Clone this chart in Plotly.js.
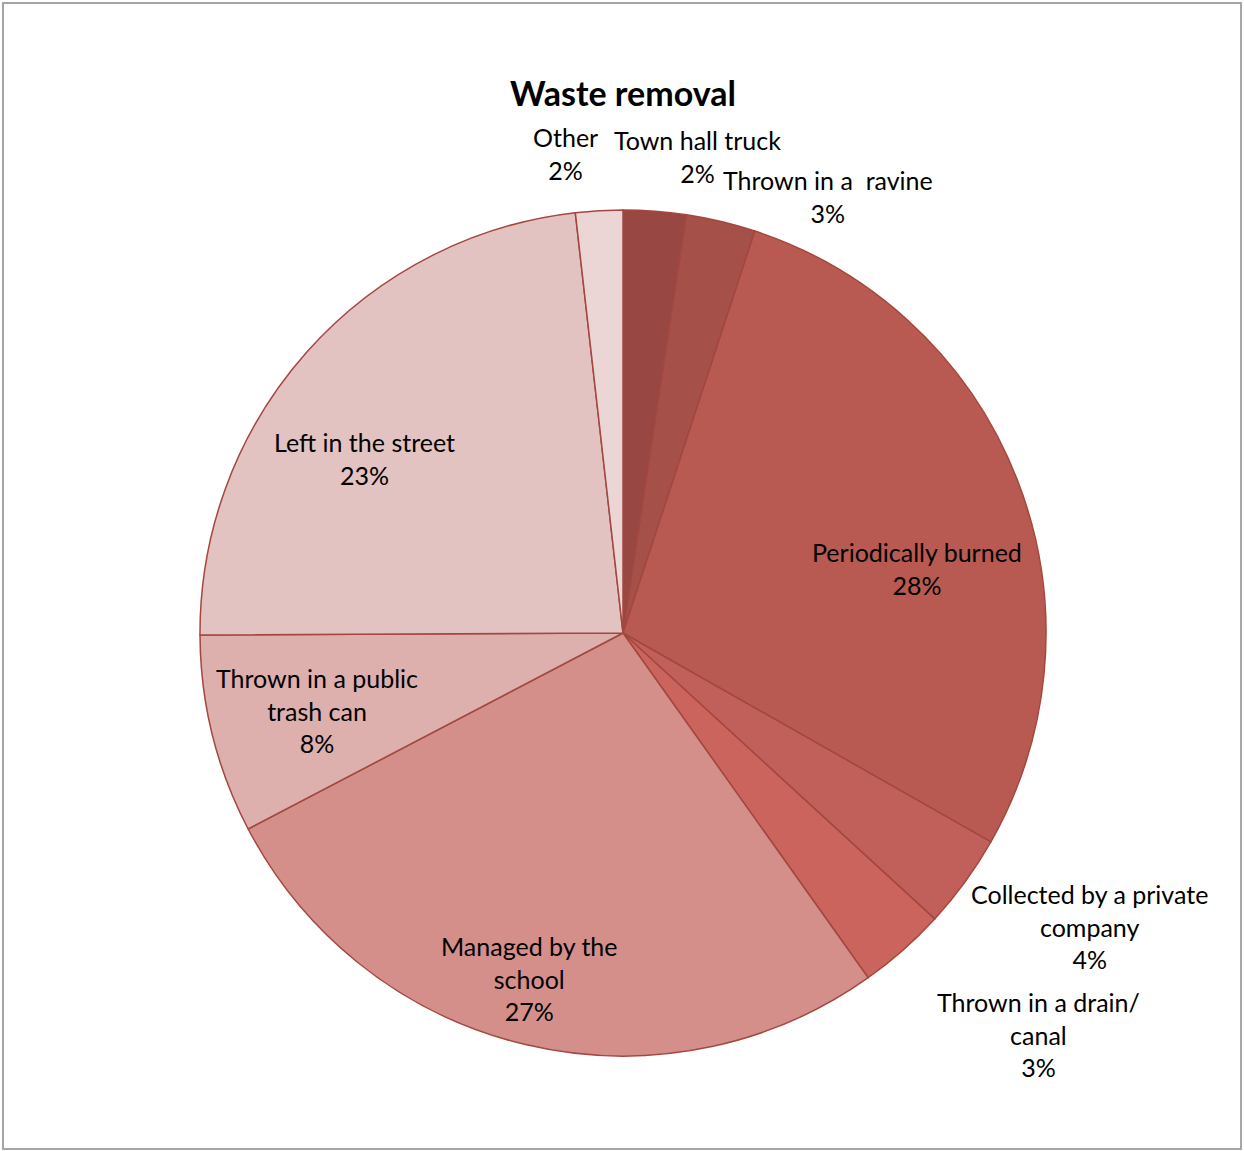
<!DOCTYPE html>
<html>
<head>
<meta charset="utf-8">
<script src="https://cdn.plot.ly/plotly-3.0.1.min.js"></script>
<style>
  html, body { margin: 0; padding: 0; background: #fff; }
  #frame { position: absolute; left: 2px; top: 2px; width: 1240px; height: 1148px; border: 2px solid #a6a6a6; box-sizing: border-box; }
  #chart { position: absolute; left: 0; top: 0; width: 1244px; height: 1151px; }
</style>
</head>
<body>
<div id="chart"></div>
<div id="frame"></div>
<script>
// Data (clockwise from 12 o'clock)
const categories = [
  "Town hall truck",
  "Thrown in a  ravine",
  "Periodically burned",
  "Collected by a private company",
  "Thrown in a drain/ canal",
  "Managed by the school",
  "Thrown in a public trash can",
  "Left in the street",
  "Other"
];
const displayLabels = [
  "Town hall truck",
  "Thrown in a  ravine",
  "Periodically burned",
  "Collected by a private<br>company",
  "Thrown in a drain/<br>canal",
  "Managed by the<br>school",
  "Thrown in a public<br>trash can",
  "Left in the street",
  "Other"
];
const shares = [2.4, 2.65, 28.2, 3.6, 3.35, 27.2, 7.6, 23.3, 1.8];
const sliceColors = ["#984743", "#A6504A", "#B95A52", "#C1605A", "#CC645E", "#D48F8B", "#DDAFAD", "#E3C3C2", "#EBD5D5"];

// Label anchor positions in pixels (center of text block)
const labelPos = [
  [697, 156], [828, 196], [917, 568], [1089, 926], [1038, 1034],
  [529, 978], [317, 710], [364, 458], [565, 154]
];

const W = 1244, H = 1151;
const M = { l: 200, r: 198, t: 210, b: 95 };
const pw = W - M.l - M.r, ph = H - M.t - M.b;
function px2x(x) { return (x - M.l) / pw; }
function py2y(y) { return 1 - (y - M.t) / ph; }

const total = shares.reduce((a, b) => a + b, 0);
const FONT = "Lato, 'Open Sans', sans-serif";
const annotations = categories.map((c, i) => ({
  xref: 'paper', yref: 'paper',
  x: px2x(labelPos[i][0]), y: py2y(labelPos[i][1]),
  xanchor: 'center', yanchor: 'middle',
  showarrow: false, align: 'center',
  text: displayLabels[i] + '<br>' + Math.round(shares[i] / total * 100) + '%',
  font: { family: FONT, size: 25, color: '#000' }
}));

const trace = {
  type: 'pie',
  labels: categories,
  values: shares,
  sort: false,
  direction: 'clockwise',
  rotation: 0,
  textinfo: 'none',
  hoverinfo: 'label+percent',
  marker: { colors: sliceColors, line: { color: '#A3473F', width: 1.5 } },
  showlegend: false
};

const layout = {
  width: W, height: H,
  margin: M,
  paper_bgcolor: '#fff', plot_bgcolor: '#fff',
  title: { text: '<b>Waste removal</b>', x: 0.5, xref: 'paper', y: 1 - 94 / H, yanchor: 'middle', font: { family: FONT, size: 34, color: '#000' } },
  annotations: annotations,
  showlegend: false
};

Plotly.newPlot('chart', [trace], layout, { displayModeBar: false, staticPlot: true });
</script>
</body>
</html>
